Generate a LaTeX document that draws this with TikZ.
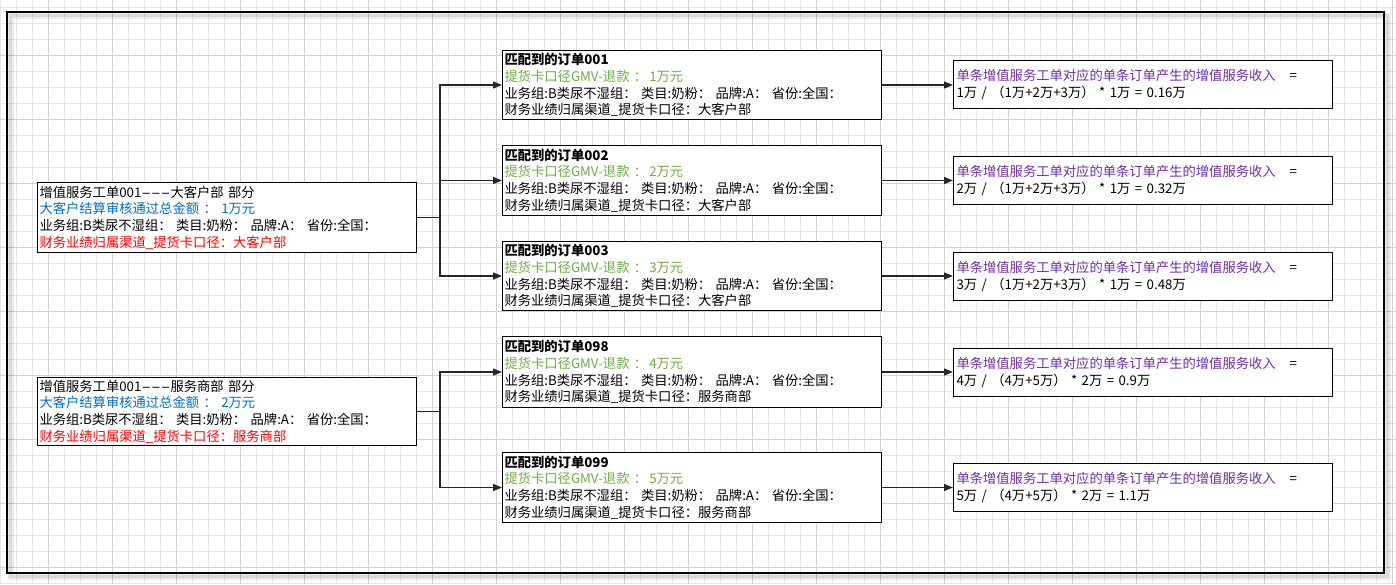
\documentclass[tikz,border=0pt]{standalone}
\usepackage{fontspec}
\setmainfont{Noto Sans CJK SC}
\usetikzlibrary{arrows.meta}

\definecolor{kblue}{RGB}{0,112,192}
\definecolor{kgreen}{RGB}{112,173,71}
\definecolor{kpurple}{RGB}{112,48,160}
\definecolor{kred}{RGB}{255,0,0}
\definecolor{gridlight}{RGB}{230,230,230}
\definecolor{griddark}{RGB}{210,210,210}

\newcommand{\wdash}{\scalebox{2.1}[1]{-}}
\newcommand{\bizline}{业务组:B类尿不湿组： 类目:奶粉： 品牌:A： 省份:全国：}
\newcommand{\gmvline}[1]{\textcolor{kgreen}{提货卡口径GMV-退款 ：\hspace{2pt}#1万元}}
\newcommand{\incomeline}{\textcolor{kpurple}{单条增值服务工单对应的单条订单产生的增值服务收入}\hspace{14pt}=}

\begin{document}
\begin{tikzpicture}[x=1pt,y=-1pt,
  box/.style={draw,line width=1pt,fill=white,anchor=north west,align=left,
    text width=375pt,inner xsep=2pt,inner ysep=0pt,
    font=\fontsize{13.3pt}{16.7pt}\selectfont},
  wire/.style={line width=1.2pt,black!85},
  arr/.style={wire,-{Triangle[length=9pt,width=7pt]}}]

\useasboundingbox (0,0) rectangle (1396,584);
\foreach \i in {0,...,87} \draw[gridlight,line width=0.8pt] (0.3+16*\i,0) -- (0.3+16*\i,584);
\foreach \i in {0,...,36} \draw[gridlight,line width=0.8pt] (0,7.3+16*\i) -- (1396,7.3+16*\i);
\foreach \i in {0,...,21} \draw[griddark,line width=0.8pt] (48.3+64*\i,0) -- (48.3+64*\i,584);
\foreach \i in {0,...,8} \draw[griddark,line width=0.8pt] (0,55.3+64*\i) -- (1396,55.3+64*\i);

\draw[black,opacity=0.08,line width=6pt] (11,16) rectangle (1388,577);
\draw[black,opacity=0.08,line width=3pt] (10,15) rectangle (1387,576);
\draw[line width=1.3pt] (7,12) rectangle (1384,573);

\node[box,minimum height=70pt] (lb1) at (37,182) {增值服务工单001\wdash\wdash\wdash 大客户部 部分\\
  \textcolor{kblue}{大客户结算审核通过总金额 ： 1万元}\\
  \bizline\\
  \textcolor{kred}{财务业绩归属渠道\_提货卡口径：大客户部}};
\node[box,minimum height=68pt] (lb2) at (37,377) {增值服务工单001\wdash\wdash\wdash 服务商部 部分\\
  \textcolor{kblue}{大客户结算审核通过总金额 ： 2万元}\\
  \bizline\\
  \textcolor{kred}{财务业绩归属渠道\_提货卡口径：服务商部}};

\node[box,minimum height=69pt] (o001) at (502,50) {\textbf{匹配到的订单001}\\ \gmvline{1}\\ \bizline\\ 财务业绩归属渠道\_提货卡口径：大客户部};
\node[box,minimum height=70pt] (o002) at (502,145) {\textbf{匹配到的订单002}\\ \gmvline{2}\\ \bizline\\ 财务业绩归属渠道\_提货卡口径：大客户部};
\node[box,minimum height=69pt] (o003) at (502,241) {\textbf{匹配到的订单003}\\ \gmvline{3}\\ \bizline\\ 财务业绩归属渠道\_提货卡口径：大客户部};
\node[box,minimum height=71pt] (o098) at (502,336) {\textbf{匹配到的订单098}\\ \gmvline{4}\\ \bizline\\ 财务业绩归属渠道\_提货卡口径：服务商部};
\node[box,minimum height=70pt] (o099) at (502,452) {\textbf{匹配到的订单099}\\ \gmvline{5}\\ \bizline\\ 财务业绩归属渠道\_提货卡口径：服务商部};

\node[box,minimum height=48pt,inner xsep=3pt,text width=373pt] (r001) at (953,60) {\incomeline\\ 1万 / （1万+2万+3万） * 1万 = 0.16万};
\node[box,minimum height=48pt,inner xsep=3pt,text width=373pt] (r002) at (953,156) {\incomeline\\ 2万 / （1万+2万+3万） * 1万 = 0.32万};
\node[box,minimum height=48pt,inner xsep=3pt,text width=373pt] (r003) at (953,252) {\incomeline\\ 3万 / （1万+2万+3万） * 1万 = 0.48万};
\node[box,minimum height=48pt,inner xsep=3pt,text width=373pt] (r098) at (953,348) {\incomeline\\ 4万 / （4万+5万） * 2万 = 0.9万};
\node[box,minimum height=48pt,inner xsep=3pt,text width=373pt] (r099) at (953,463) {\incomeline\\ 5万 / （4万+5万） * 2万 = 1.1万};

\coordinate (j1) at ([xshift=23pt]lb1.east);
\coordinate (j2) at ([xshift=23pt]lb2.east);
\draw[wire] (lb1.east) -- (j1);
\draw[wire] (lb2.east) -- (j2);
\foreach \t in {o001,o002,o003} \draw[arr] (j1) |- (\t.west);
\foreach \t in {o098,o099} \draw[arr] (j2) |- (\t.west);
\foreach \t in {001,002,003,098,099} \draw[arr] (o\t.east) -- (o\t.east -| r\t.west);
\end{tikzpicture}
\end{document}
